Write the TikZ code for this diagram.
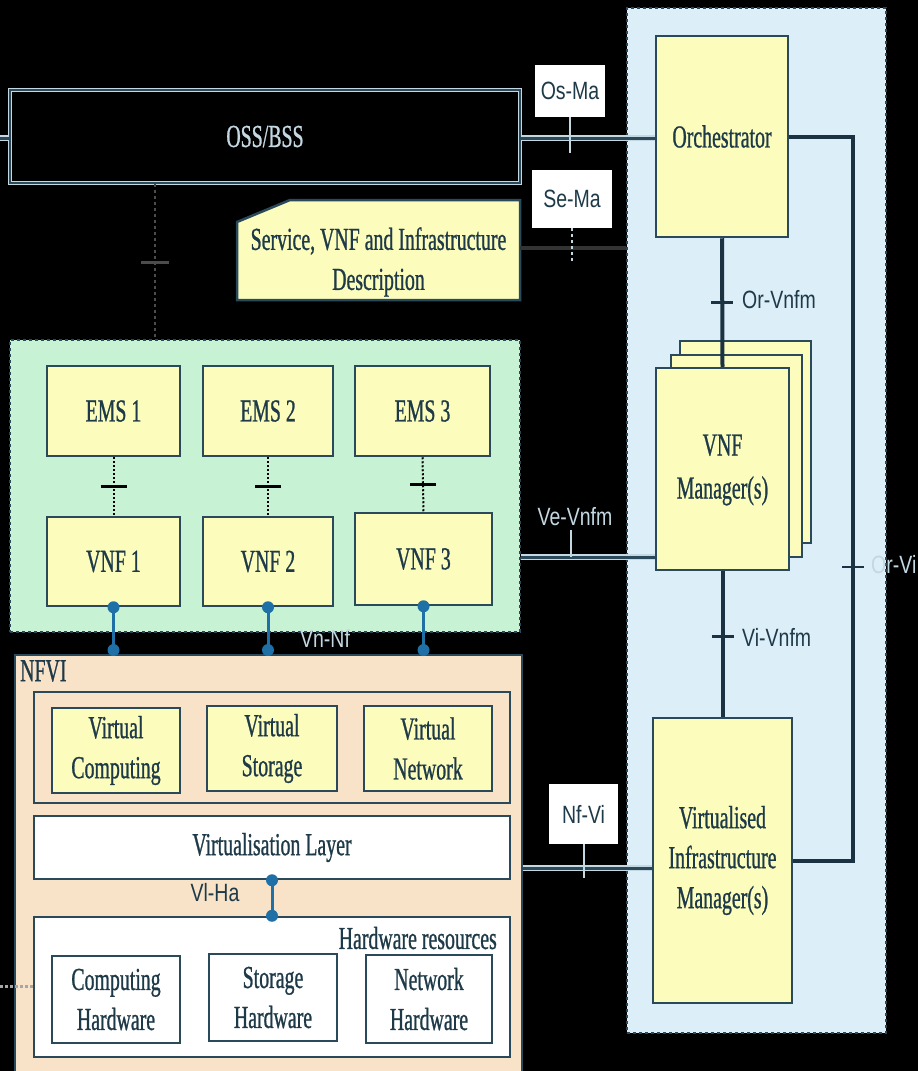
\documentclass[tikz,border=0pt]{standalone}
\usepackage{fontspec}
\setmainfont{Liberation Serif}[FakeStretch=0.62,FakeBold=0.8]
\newfontfamily\lblfont{Liberation Sans}[FakeStretch=0.78]
\usetikzlibrary{calc}
\definecolor{yfill}{HTML}{FCFCBC}
\definecolor{gfill}{HTML}{C8F2D4}
\definecolor{bfill}{HTML}{DCEEF8}
\definecolor{pfill}{HTML}{F8E2C8}
\definecolor{edge}{HTML}{2A4A5C}
\definecolor{navy}{HTML}{1B3242}
\definecolor{txt}{HTML}{1E3A48}
\definecolor{dotc}{HTML}{1E70A6}
\definecolor{halo}{HTML}{C4D8E2}
\tikzset{
  boxtext/.style={font=\fontsize{32}{40}\selectfont, text=txt, align=center},
  yelbox/.style={draw=edge, line width=2.5pt, fill=yfill, boxtext, inner sep=0pt},
  whbox/.style={draw=edge, line width=2.5pt, fill=white, boxtext, inner sep=0pt},
  pchbox/.style={draw=edge, line width=2.5pt, fill=pfill, inner sep=0pt},
  area/.style={draw=edge, line width=1.5pt, dashed, inner sep=0pt},
  lbl/.style={font=\lblfont\fontsize{25}{28}\selectfont, text=txt, inner sep=0pt},
  lbllight/.style={lbl, text=halo},
  lblbox/.style={lbl, fill=white, inner sep=0pt},
  tickmark/.style={line width=2.5pt, draw=navy},
  lighttick/.style={line width=2pt, draw=halo},
  mgmtline/.style={line width=4pt, draw=navy},
  extline/.style={draw=halo, line width=1.5pt, double=edge, double distance=3pt},
  emsline/.style={draw=black, line width=2pt, dotted},
  ossline/.style={draw=gray!60!black, line width=2pt, dashed},
  vnlink/.style={draw=dotc, line width=3pt},
  dotend/.style={fill=dotc}
}
\begin{document}
\begin{tikzpicture}[x=1pt,y=-1pt]
\useasboundingbox (0,0) rectangle (918,1071);
\fill[black] (0,0) rectangle (918,1071);

% management and orchestration area
\node[area, fill=bfill, minimum width=259, minimum height=1025] (mgmt) at (756.5,520.5) {};

% OSS/BSS
\node[draw=halo, line width=1.2pt, double=edge, double distance=2pt, fill=black,
      font=\fontsize{32}{40}\selectfont, text=halo, minimum width=510, minimum height=93, inner sep=0pt] (oss) at (265,136.5) {OSS/BSS};

% Service description
\draw[draw=edge, line width=2.5pt, fill=yfill] (237,222) -- (290,200) -- (520,200) -- (520,300) -- (237,300) -- cycle;
\node[boxtext, minimum width=283, minimum height=98, inner sep=0pt] (svc) at (378.5,262) {Service, VNF and Infrastructure\\Description};

% labels on black
\node[lblbox, minimum width=70, minimum height=52] (osma) at (570,91) {Os-Ma};
\node[lblbox, minimum width=80, minimum height=58] (sema) at (572,199) {Se-Ma};
\node[lblbox, minimum width=69, minimum height=60] (nfvil) at (583.5,814) {Nf-Vi};

% Orchestrator, VNFM, VIM
\node[yelbox, minimum width=132, minimum height=201] (orch) at (722,136.5) {Orchestrator};
\node[yelbox, minimum width=131, minimum height=202] (vnfmc) at (745.5,442) {};
\node[yelbox, minimum width=131, minimum height=202] (vnfmb) at (736.5,456) {};
\node[yelbox, minimum width=133, minimum height=202, align=none] (vnfm) at (722.5,469) {\raisebox{-7pt}{\begin{tabular}{@{}c@{}}VNF\\[3pt]Manager(s)\end{tabular}}};
\node[yelbox, minimum width=139, minimum height=285] (vim) at (722.5,860.5) {Virtualised\\Infrastructure\\Manager(s)};

% VNF area
\node[area, fill=gfill, minimum width=510, minimum height=292] (vnfarea) at (265,486) {};
\node[yelbox, minimum width=133, minimum height=90] (ems1) at (113.5,411) {EMS 1};
\node[yelbox, minimum width=130, minimum height=90] (ems2) at (268,411) {EMS 2};
\node[yelbox, minimum width=135, minimum height=90] (ems3) at (422.5,411) {EMS 3};
\node[yelbox, minimum width=133, minimum height=89] (vnf1) at (113.5,561.5) {VNF 1};
\node[yelbox, minimum width=130, minimum height=89] (vnf2) at (268,561.5) {VNF 2};
\node[yelbox, minimum width=137, minimum height=92] (vnf3) at (423.5,559) {VNF 3};

% NFVI
\node[draw=edge, line width=2pt, fill=pfill, minimum width=507, minimum height=430, inner sep=0pt] (nfvi) at (268.5,870) {};
\node[boxtext, anchor=north west, inner sep=0pt] (nfvilbl) at (20,660) {NFVI};
\node[pchbox, minimum width=476, minimum height=111] (virtgrp) at (272,747.5) {};
\node[yelbox, minimum width=128, minimum height=85] (vcomp) at (116,750.5) {Virtual\\Computing};
\node[yelbox, minimum width=130, minimum height=85] (vstor) at (272,748.5) {Virtual\\Storage};
\node[yelbox, minimum width=128, minimum height=85] (vnet) at (428,748.5) {Virtual\\Network};
\node[whbox, minimum width=476, minimum height=63] (vlayer) at (272,847.5) {Virtualisation Layer};
\node[whbox, minimum width=476, minimum height=140] (hwres) at (272,987) {};
\node[boxtext, anchor=east, inner sep=0pt] (hwlbl) at (497,938) {Hardware resources};
\node[whbox, minimum width=128, minimum height=87] (chw) at (116,999.5) {Computing\\Hardware};
\node[whbox, minimum width=128, minimum height=87] (shw) at (273,997.5) {Storage\\Hardware};
\node[whbox, minimum width=126, minimum height=88] (nhw) at (429,999) {Network\\Hardware};

% helper coordinates
\coordinate (osy) at (0,138);
\coordinate (sey) at (0,248);
\coordinate (vey) at (0,557);
\coordinate (nfy) at (0,868);
\coordinate (orvix) at (853,0);
\coordinate (ossx) at (155,0);
\coordinate (hwy) at (0,986);
\coordinate (leftedge) at (0,0);

% OSS stubs and link to VNF area
\draw[extline] (leftedge |- osy) -- (oss.west |- osy);
\draw[ossline] (oss.south -| ossx) -- (vnfarea.north -| ossx);
\draw[line width=2.5pt, draw=gray!60!black] ($(oss.south -| ossx)+(-14,79)$) -- ++(28,0);

% Os-Ma
\draw[extline] (oss.east |- osy) -- (orch.west |- osy);
\draw[lighttick] (osma.south) -- ++(0,36);

% Se-Ma
\draw[draw=gray!40!black, line width=4pt] (svc.east |- sey) -- (mgmt.west |- sey);
\draw[lighttick, dashed] (sema.south) -- ++(0,34);

% Or-Vnfm, Vi-Vnfm, Or-Vi
\draw[mgmtline] (orch.south) -- (vnfm.north);
\draw[tickmark] ($(orch.south)!0.5!(vnfm.north)+(-11,0)$) -- ++(22,0);
\node[lbl, anchor=west] (orvnfm) at (742,300) {Or-Vnfm};
\draw[mgmtline] (vnfm.south) -- (vim.north);
\draw[tickmark] ($(vnfm.south)!0.45!(vim.north)+(-11,0)$) -- ++(22,0);
\node[lbl, anchor=west] (vivnfm) at (742,637) {Vi-Vnfm};
\draw[mgmtline] (orch.east) -- (orch.east -| orvix) -- (vim.east -| orvix) -- (vim.east);
\coordinate (orvitick) at (853,567);
\draw[tickmark] ($(orvitick)+(-11,0)$) -- ($(orvitick)+(11,0)$);
\node[lbllight, anchor=west] (orvilbl) at (871,565) {Or-Vi};

% EMS - VNF
\foreach \e/\v/\t in {ems1/vnf1/0.5, ems2/vnf2/0.5, ems3/vnf3/0.5}{
  \draw[emsline] (\e.south) -- (\v.north);
  \draw[line width=3pt, draw=black] ($(\e.south)!\t!(\v.north)+(-13,0)$) -- ++(26,0);
}

% Ve-Vnfm
\draw[extline] (vnfarea.east |- vey) -- (vnfm.west |- vey);
\draw[lighttick] ($(vnfarea.east |- vey)+(50,0)$) -- ++(0,-27);
\node[lbllight] (vevnfm) at (575,517) {Ve-Vnfm};

% Vn-Nf
\foreach \v in {vnf1,vnf2,vnf3}{
  \draw[vnlink] (\v.south) -- ($(\v.south |- nfvi.north)+(0,-4)$);
  \fill[dotend] (\v.south) circle (6);
  \fill[dotend] ($(\v.south |- nfvi.north)+(0,-4)$) circle (6);
}
\node[lbllight] (vnnf) at (325,638) {Vn-Nf};

% Vl-Ha
\draw[vnlink] (vlayer.south) -- (hwres.north);
\fill[dotend] (vlayer.south) circle (6);
\fill[dotend] (hwres.north) circle (6);
\node[lbl] (vlha) at (215,893) {Vl-Ha};

% Nf-Vi
\draw[extline] (nfvi.east |- nfy) -- (vim.west |- nfy);
\draw[lighttick] (nfvil.south) -- ++(0,34);

% left dotted stub at hardware
\draw[draw=gray!70, line width=3pt, dotted] (leftedge |- hwy) -- (hwres.west |- hwy);
\end{tikzpicture}
\end{document}
